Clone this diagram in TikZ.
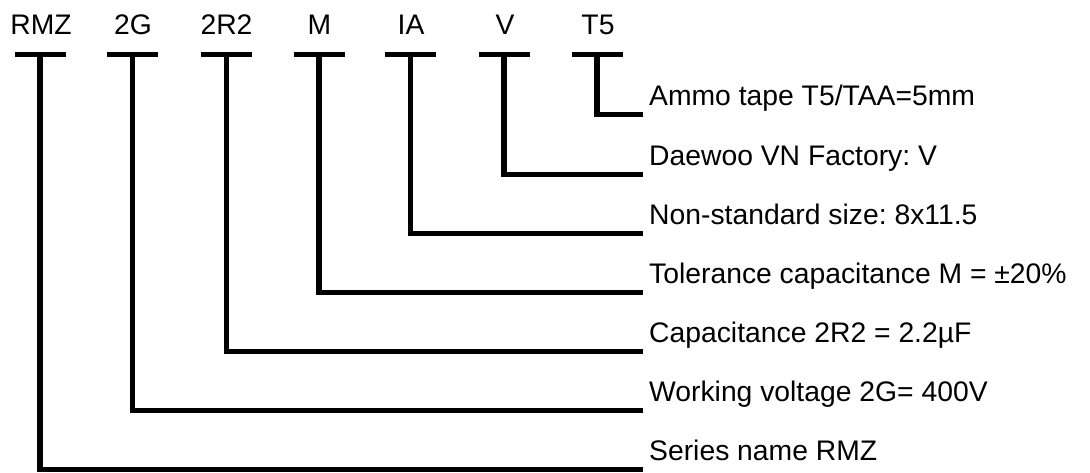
\documentclass[tikz,border=0pt]{standalone}
\usepackage{fontspec}
\setmainfont{Liberation Sans}
\begin{document}
\frenchspacing
\begin{tikzpicture}[x=1pt,y=-1pt,
  codelabel/.style={anchor=base,inner sep=0pt,font=\fontsize{28.3}{34}\selectfont},
  desclabel/.style={anchor=base west,inner sep=0pt,font=\fontsize{28.3}{34}\selectfont},
  leader/.style={line width=5.5pt,line cap=butt,line join=miter},
  tbar/.style={line width=5.5pt,line cap=butt}]
\useasboundingbox (0,0) rectangle (1090,472);
% code segments
\node[codelabel] (cRMZ) at (41,34) {RMZ};
\node[codelabel] (c2G)  at (133,34) {2G};
\node[codelabel] (c2R2) at (226.5,34) {2R2};
\node[codelabel] (cM)   at (319.5,34) {M};
\node[codelabel] (cIA)  at (411,34) {IA};
\node[codelabel] (cV)   at (505,34) {V};
\node[codelabel] (cT5)  at (598,34) {T5};
% bar centres
\coordinate (bRMZ) at (40,54.5);
\coordinate (b2G)  at (132.5,54.5);
\coordinate (b2R2) at (226.5,54.5);
\coordinate (bM)   at (319,54.5);
\coordinate (bIA)  at (410.5,54.5);
\coordinate (bV)   at (504,54.5);
\coordinate (bT5)  at (597,54.5);
% line ends
\coordinate (eT5)  at (643,114.5);
\coordinate (eV)   at (643,174.5);
\coordinate (eIA)  at (643,233.5);
\coordinate (eM)   at (643,292.5);
\coordinate (e2R2) at (643,351.5);
\coordinate (e2G)  at (643,410.5);
\coordinate (eRMZ) at (643,469.5);
% descriptions
\node[desclabel] (dT5)  at (649,105) {Ammo tape T5/TAA=5mm};
\node[desclabel] (dV)   at (649,165) {Daewoo VN Factory: V};
\node[desclabel] (dIA)  at (649,224) {Non-standard size: 8x11.5};
\node[desclabel] (dM)   at (649,283) {Tolerance capacitance M = ±20\%};
\node[desclabel] (d2R2) at (649,342) {Capacitance 2R2 = 2.2µF};
\node[desclabel] (d2G)  at (649,401) {Working voltage 2G= 400V};
\node[desclabel] (dRMZ) at (649,460) {Series name RMZ};
% T bars and leaders
\foreach \k in {RMZ,2G,2R2,M,IA,V,T5}{
  \draw[tbar] ([xshift=-25.5pt]b\k) -- ([xshift=25.5pt]b\k);
  \draw[leader] (b\k) |- (e\k);
}
\end{tikzpicture}
\end{document}
